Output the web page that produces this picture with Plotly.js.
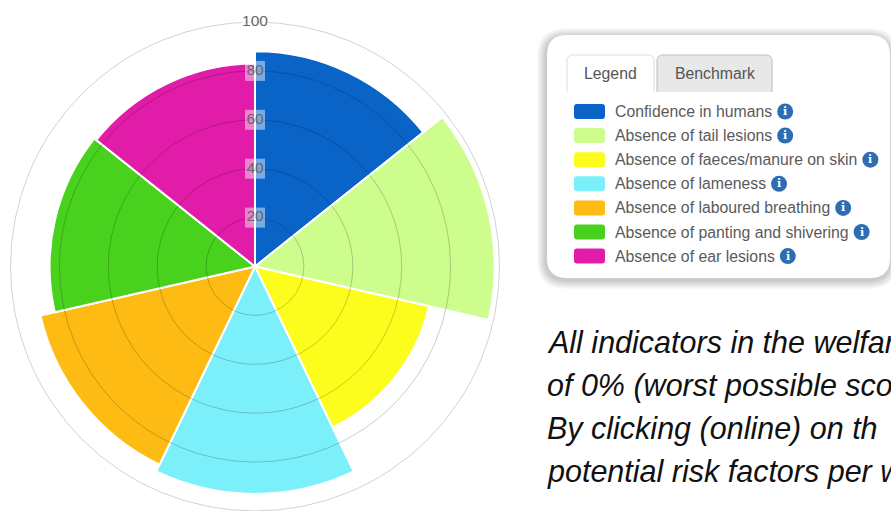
<!DOCTYPE html>
<html><head><meta charset="utf-8">
<script src="https://cdn.plot.ly/plotly-3.0.1.min.js"></script>
<style>html,body{margin:0;padding:0;overflow:hidden;background:#fff}#chart{width:891px;height:511px}</style>
</head><body><div id="chart"></div>
<script>
const categories = ['Confidence in humans', 'Absence of tail lesions', 'Absence of faeces/manure on skin',
  'Absence of lameness', 'Absence of laboured breathing', 'Absence of panting and shivering', 'Absence of ear lesions'];
const scores = [88, 98, 73, 93, 90, 84, 83];
const colors = ['#0a64c8', '#ccfd8d', '#fdfd1d', '#7bf0fb', '#fdbb13', '#48d21d', '#e11ca9'];
const radialTickValues = [20, 40, 60, 80, 100];
const radialTickLabels = ['20', '40', '60', '80', '100'];
const tabLabels = ['Legend', 'Benchmark'];
const noteLines = ['All indicators in the welfar', 'of 0% (worst possible sco', 'By clicking (online) on th', 'potential risk factors per w'];

const W = 891, H = 511;
const px = x => x / W, py = y => 1 - y / H;
const FONT = 'Liberation Sans, Arial, sans-serif';

function rr(x0, y0, x1, y1, r, openBottom) {
  const p = (x, y) => px(x) + ',' + py(y);
  let s = 'M' + p(x0, y1 - (openBottom ? 0 : r)) + ' L' + p(x0, y0 + r) + ' Q' + p(x0, y0) + ' ' + p(x0 + r, y0) +
    ' L' + p(x1 - r, y0) + ' Q' + p(x1, y0) + ' ' + p(x1, y0 + r) + ' L' + p(x1, openBottom ? y1 : y1 - r);
  if (!openBottom) s += ' Q' + p(x1, y1) + ' ' + p(x1 - r, y1) + ' L' + p(x0 + r, y1) + ' Q' + p(x0, y1) + ' ' + p(x0, y1 - r) + ' Z';
  return s;
}

const canvas = document.createElement('canvas');
const ctx = canvas.getContext('2d');
function textWidth(t, size) { ctx.font = size + 'px "Liberation Sans", Arial, sans-serif'; return ctx.measureText(t).width; }

const shapes = [], annotations = [];
// legend panel shadow + box
const bx0 = 547, by0 = 35, bx1 = 890, by1 = 278;
for (let i = 9; i >= 1; i--) {
  shapes.push({type: 'path', xref: 'paper', yref: 'paper', path: rr(bx0 - i - 1, by0 - i + 2, bx1 + i - 1, by1 + i + 2, 20 + i),
    fillcolor: 'rgba(0,0,0,0.022)', line: {width: 0}, layer: 'below'});
}
shapes.push({type: 'path', xref: 'paper', yref: 'paper', path: rr(bx0, by0, bx1, by1, 20), fillcolor: '#ffffff', line: {width: 0}, layer: 'below'});
// tabs
const tabs = [[567, 654, '#ffffff', '#dddddd'], [657, 772, '#e8e8e8', '#bdbdbd']];
tabs.forEach((t, i) => {
  shapes.push({type: 'path', xref: 'paper', yref: 'paper', path: rr(t[0], 55, t[1], 92, 6, true) + ' Z', fillcolor: t[2], line: {width: 0}, layer: 'below'});
  shapes.push({type: 'path', xref: 'paper', yref: 'paper', path: rr(t[0], 55, t[1], 92, 6, true), fillcolor: 'rgba(0,0,0,0)', line: {width: 1, color: t[3]}, layer: 'below'});
  annotations.push({xref: 'paper', yref: 'paper', x: px((t[0] + t[1]) / 2), y: py(73.5), xanchor: 'center', yanchor: 'middle',
    text: tabLabels[i], showarrow: false, font: {family: FONT, size: 15.8, color: '#555'}});
});
// legend rows
categories.forEach((c, i) => {
  const yc = 111.5 + i * 24.1;
  shapes.push({type: 'path', xref: 'paper', yref: 'paper', path: rr(574, yc - 7.5, 605, yc + 7.5, 3), fillcolor: colors[i], line: {width: 0}});
  annotations.push({xref: 'paper', yref: 'paper', x: px(613), y: py(yc), xanchor: 'left', yanchor: 'middle',
    text: c, showarrow: false, font: {family: FONT, size: 15.8, color: '#5a5a5a'}});
  const ix = 614 + textWidth(c, 15.8) + 6 + 8;
  shapes.push({type: 'circle', xref: 'paper', yref: 'paper', x0: px(ix - 8), x1: px(ix + 8), y0: py(yc + 8), y1: py(yc - 8), fillcolor: '#2e6db4', line: {width: 0}});
  annotations.push({xref: 'paper', yref: 'paper', x: px(ix), y: py(yc), xanchor: 'center', yanchor: 'middle',
    text: '<b>i</b>', showarrow: false, font: {family: 'DejaVu Serif, serif', size: 11, color: '#fff'}});
});
// note text
noteLines.forEach((t, i) => {
  annotations.push({xref: 'paper', yref: 'paper', x: px(545), y: py(342 + i * 43.3), xanchor: 'left', yanchor: 'middle',
    text: t, showarrow: false, font: {family: FONT, size: 30.5, color: '#111', style: 'italic'}});
});

const dom = {x: [9.5 / W, 500.5 / W], y: [0, 489 / H]};
const traces = [
  {type: 'barpolar', subplot: 'polar', theta: categories, r: scores, marker: {color: colors, line: {color: '#fff', width: 2}},
    hoverinfo: 'skip', showlegend: false},
  {type: 'scatterpolar', subplot: 'polar2', mode: 'markers+text', r: radialTickValues, theta: radialTickValues.map(() => 0),
    text: radialTickLabels, textposition: 'middle center', cliponaxis: false, hoverinfo: 'skip', showlegend: false,
    textfont: {family: FONT, size: 15.5, color: '#666'},
    marker: {symbol: 'square', size: radialTickLabels.map(l => l.length * 7 + 6),
      color: radialTickLabels.map((l, i) => i === radialTickLabels.length - 1 ? '#ffffff' : 'rgba(255,255,255,0.65)'), line: {width: 0}}}
];
const layout = {
  width: W, height: H, margin: {l: 0, r: 0, t: 0, b: 0}, paper_bgcolor: '#fff', showlegend: false,
  polar: {domain: dom, bgcolor: 'rgba(0,0,0,0)', bargap: 0,
    radialaxis: {range: [0, 100], visible: false},
    angularaxis: {rotation: 90 - 360 / (2 * categories.length), direction: 'clockwise', showgrid: false, showline: false, showticklabels: false, ticks: ''}},
  polar2: {domain: dom, bgcolor: 'rgba(0,0,0,0)',
    radialaxis: {range: [0, 100], tickvals: radialTickValues.slice(0, -1), showgrid: true, gridcolor: 'rgba(0,0,0,0.2)', gridwidth: 1,
      showline: false, showticklabels: false, ticks: ''},
    angularaxis: {type: 'linear', rotation: 90, direction: 'clockwise', showgrid: false, showline: true, linecolor: '#d2d2d2', linewidth: 1,
      showticklabels: false, ticks: '', layer: 'below traces'}},
  shapes: shapes, annotations: annotations
};
Plotly.newPlot('chart', traces, layout, {staticPlot: true, displayModeBar: false});
</script></body></html>
